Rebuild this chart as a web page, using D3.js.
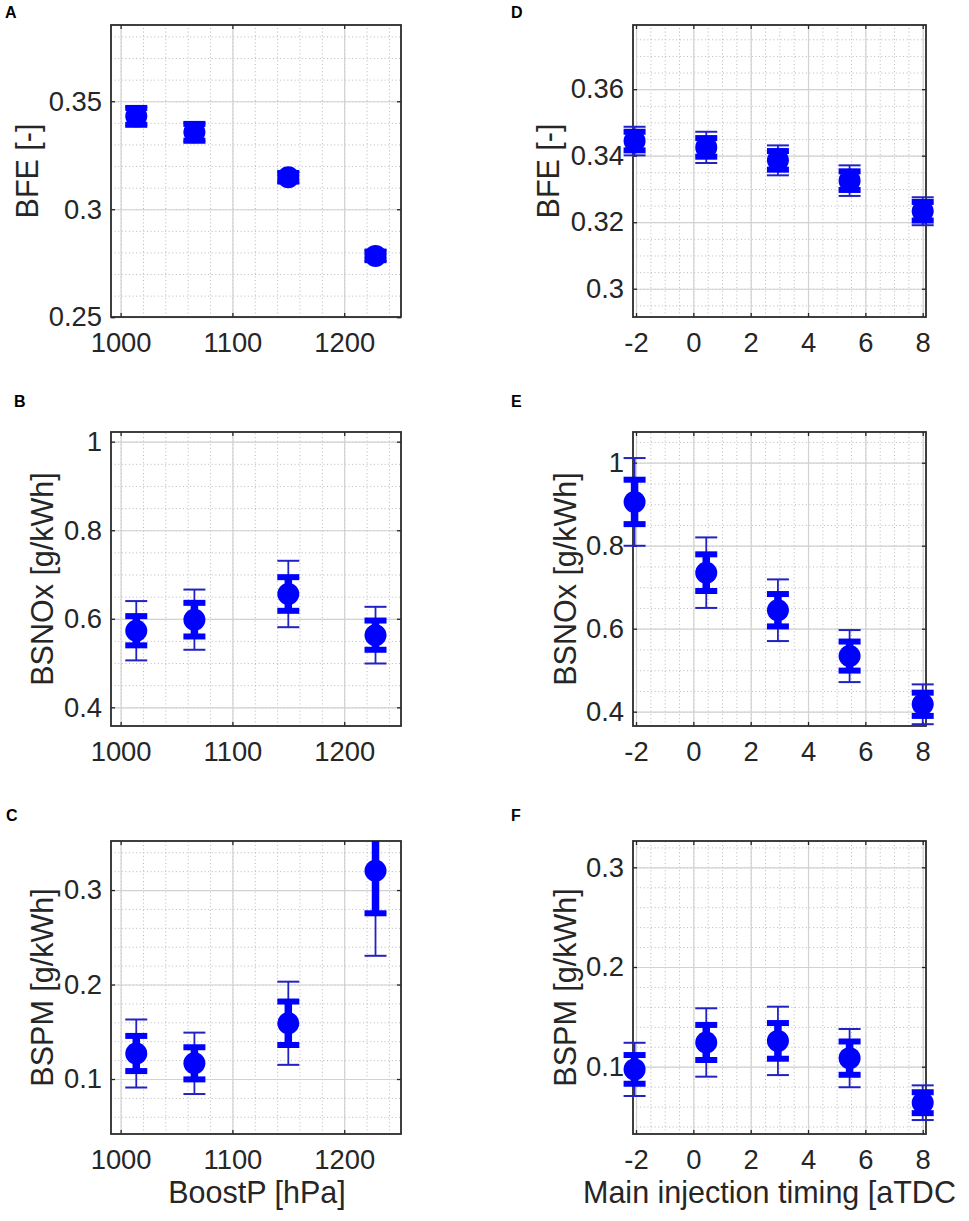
<!DOCTYPE html>
<html>
<head>
<meta charset="utf-8">
<script src="https://cdn.jsdelivr.net/npm/d3@7"></script>
<style>
  body { margin: 0; background: #fff; }
  svg { display: block; font-family: "Liberation Sans", Arial, sans-serif; }
  .tick text { fill: #262626; }
  .axis-label { fill: #262626; }
  .panel-letter { font-weight: bold; fill: #000; }
</style>
</head>
<body>
<svg width="969" height="1221"></svg>
<script>
// x positions of the operating points
const boostP = [1014, 1066, 1150, 1228];
const injTiming = [-2.05, 0.45, 2.95, 5.45, 8.0];

// boost pressure sweep: mean, thick bar half-width, thin bar half-width
const bfeBoost = [0.3430, 0.3356, 0.3148, 0.2784];
const bfeBoostErr = [0.0039, 0.0039, 0.0020, 0.0020];
const bfeBoostRange = [0.0042, 0.0042, 0.0024, 0.0024];

const noxBoost = [0.573, 0.598, 0.656, 0.563];
const noxBoostErr = [0.033, 0.038, 0.038, 0.033];
const noxBoostRange = [0.067, 0.068, 0.075, 0.064];

const pmBoost = [0.127, 0.1166, 0.159, 0.3204];
const pmBoostErr = [0.0186, 0.017, 0.023, 0.045];
const pmBoostRange = [0.036, 0.0325, 0.044, 0.090];

// injection timing sweep
const bfeTiming = [0.3444, 0.3425, 0.3386, 0.3325, 0.3233];
const bfeTimingErr = [0.0028, 0.0028, 0.0028, 0.0028, 0.0028];
const bfeTimingRange = [0.0043, 0.0047, 0.0045, 0.0046, 0.0042];

const noxTiming = [0.9055, 0.735, 0.6445, 0.534, 0.4178];
const noxTimingErr = [0.0535, 0.0442, 0.039, 0.035, 0.028];
const noxTimingRange = [0.1057, 0.085, 0.0743, 0.0627, 0.048];

const pmTiming = [0.0973, 0.1243, 0.1259, 0.1086, 0.0639];
const pmTimingErr = [0.0144, 0.0176, 0.0179, 0.0167, 0.0105];
const pmTimingRange = [0.0267, 0.0343, 0.0343, 0.0292, 0.0174];

// tick values
const boostTicks = [1000, 1100, 1200];
const timingTicks = [-2, 0, 2, 4, 6, 8];
const bfeBoostTicks = [0.25, 0.3, 0.35];
const bfeTimingTicks = [0.3, 0.32, 0.34, 0.36];
const noxTicks = [0.4, 0.6, 0.8, 1];
const pmTicks = [0.1, 0.2, 0.3];

const svg = d3.select('svg');
svg.append('rect').attr('width', 969).attr('height', 1221).attr('fill', '#fff');

const blue = '#0000ff';
const thinBlue = '#2222c4';

const leftCol = {x: 111, w: 290, xData: boostP, xDomain: [991.4, 1250.8], xTicks: boostTicks, xMinor: 20};
const rightCol = {x: 633, w: 293, xData: injTiming, xDomain: [-2.105, 8.115], xTicks: timingTicks, xMinor: 0.5};

const panels = [
	{col: leftCol, letter: 'A', letterX: 5, letterY: 18, top: 25, h: 292, yDomain: [0.2501, 0.3853], yTicks: bfeBoostTicks, yMinor: 0.01,
		mean: bfeBoost, err: bfeBoostErr, range: bfeBoostRange, yLabel: 'BFE [-]', labelOff: 84},
	{col: leftCol, letter: 'B', letterX: 14, letterY: 407, top: 432, h: 294, yDomain: [0.3578, 1.0219], yTicks: noxTicks, yMinor: 0.05,
		mean: noxBoost, err: noxBoostErr, range: noxBoostRange, yLabel: 'BSNOx [g/kWh]', labelOff: 69},
	{col: leftCol, letter: 'C', letterX: 6, letterY: 821, top: 841, h: 293, yDomain: [0.0418, 0.3519], yTicks: pmTicks, yMinor: 0.02,
		mean: pmBoost, err: pmBoostErr, range: pmBoostRange, yLabel: 'BSPM [g/kWh]', labelOff: 69, xLabel: 'BoostP [hPa]'},
	{col: rightCol, letter: 'D', letterX: 511, letterY: 18, top: 25, h: 292, yDomain: [0.2915, 0.3793], yTicks: bfeTimingTicks, yMinor: 0.005,
		mean: bfeTiming, err: bfeTimingErr, range: bfeTimingRange, yLabel: 'BFE [-]', labelOff: 85},
	{col: rightCol, letter: 'E', letterX: 511, letterY: 407, top: 432, h: 294, yDomain: [0.3655, 1.074], yTicks: noxTicks, yMinor: 0.05,
		mean: noxTiming, err: noxTimingErr, range: noxTimingRange, yLabel: 'BSNOx [g/kWh]', labelOff: 68},
	{col: rightCol, letter: 'F', letterX: 511, letterY: 821, top: 841, h: 293, yDomain: [0.0325, 0.3264], yTicks: pmTicks, yMinor: 0.02,
		mean: pmTiming, err: pmTimingErr, range: pmTimingRange, yLabel: 'BSPM [g/kWh]', labelOff: 68, xLabel: 'Main injection timing [aTDC'}
];

const minorValues = (domain, step) => {
	const n0 = Math.ceil(domain[0] / step - 1e-9);
	const n1 = Math.floor(domain[1] / step + 1e-9);
	return d3.range(n0, n1 + 1).map(i => +(i * step).toFixed(6));
};

const fmt = d => String(+d.toFixed(4));

panels.forEach((p, pi) => {
	const c = p.col;
	const w = c.w, h = p.h;

	const xScale = d3.scaleLinear().domain(c.xDomain).range([0, w]);
	const yScale = d3.scaleLinear().domain(p.yDomain).range([h, 0]);

	const g = svg.append('g')
		.attr('transform', `translate(${c.x}, ${p.top})`);

	// minor grid (dotted)
	g.append('g')
		.attr('transform', `translate(0, ${h})`)
		.call(d3.axisBottom(xScale).tickValues(minorValues(c.xDomain, c.xMinor)).tickSize(-h).tickFormat(''))
		.call(s => s.select('.domain').remove())
		.call(s => s.selectAll('line').attr('stroke', '#b8b8b8').attr('stroke-dasharray', '1,2.6'));
	g.append('g')
		.call(d3.axisLeft(yScale).tickValues(minorValues(p.yDomain, p.yMinor)).tickSize(-w).tickFormat(''))
		.call(s => s.select('.domain').remove())
		.call(s => s.selectAll('line').attr('stroke', '#b8b8b8').attr('stroke-dasharray', '1,2.6'));

	// major grid
	g.append('g')
		.attr('transform', `translate(0, ${h})`)
		.call(d3.axisBottom(xScale).tickValues(c.xTicks).tickSize(-h).tickFormat(''))
		.call(s => s.select('.domain').remove())
		.call(s => s.selectAll('line').attr('stroke', '#d2d2d2').attr('stroke-width', 1.2));
	g.append('g')
		.call(d3.axisLeft(yScale).tickValues(p.yTicks).tickSize(-w).tickFormat(''))
		.call(s => s.select('.domain').remove())
		.call(s => s.selectAll('line').attr('stroke', '#d2d2d2').attr('stroke-width', 1.2));

	// tick labels
	const yAxisG = g.append('g')
		.call(d3.axisLeft(yScale).tickValues(p.yTicks).tickSize(0).tickPadding(9).tickFormat(fmt));
	yAxisG.select('.domain').remove();
	yAxisG.selectAll('text').attr('font-size', 27.4).attr('font-family', '"Liberation Sans", Arial, sans-serif');

	const xAxisG = g.append('g')
		.attr('transform', `translate(0, ${h})`)
		.call(d3.axisBottom(xScale).tickValues(c.xTicks).tickSize(0).tickPadding(16).tickFormat(fmt));
	xAxisG.select('.domain').remove();
	xAxisG.selectAll('text').attr('font-size', 27.4).attr('font-family', '"Liberation Sans", Arial, sans-serif');

	// inner tick marks on all four sides
	const tickStyle = s => s.call(t => t.select('.domain').remove())
		.selectAll('line').attr('stroke', '#262626').attr('stroke-width', 1.3);
	g.append('g').attr('transform', `translate(0, ${h})`)
		.call(d3.axisBottom(xScale).tickValues(c.xTicks).tickSize(-4).tickFormat('')).call(tickStyle);
	g.append('g')
		.call(d3.axisTop(xScale).tickValues(c.xTicks).tickSize(-4).tickFormat('')).call(tickStyle);
	g.append('g')
		.call(d3.axisLeft(yScale).tickValues(p.yTicks).tickSize(-4).tickFormat('')).call(tickStyle);
	g.append('g').attr('transform', `translate(${w}, 0)`)
		.call(d3.axisRight(yScale).tickValues(p.yTicks).tickSize(-4).tickFormat('')).call(tickStyle);

	// box
	g.append('rect')
		.attr('width', w).attr('height', h)
		.attr('fill', 'none').attr('stroke', '#2b2b2b').attr('stroke-width', 1.8);

	// clip marks vertically to the axes
	const clipId = `clip-${pi}`;
	g.append('clipPath').attr('id', clipId)
		.append('rect').attr('x', -40).attr('y', 0).attr('width', w + 80).attr('height', h);

	const pts = p.mean.map((m, i) => ({x: c.xData[i], m, e: p.err[i], r: p.range[i]}));
	const marks = g.append('g').attr('clip-path', `url(#${clipId})`);
	const capW = 11;

	const pg = marks.selectAll('g.pt').data(pts).join('g').attr('class', 'pt');

	// thin bars
	pg.append('line')
		.attr('x1', d => xScale(d.x)).attr('x2', d => xScale(d.x))
		.attr('y1', d => yScale(d.m - d.r)).attr('y2', d => yScale(d.m + d.r))
		.attr('stroke', thinBlue).attr('stroke-width', 1.8);
	[-1, 1].forEach(sgn => {
		pg.append('line')
			.attr('x1', d => xScale(d.x) - capW).attr('x2', d => xScale(d.x) + capW)
			.attr('y1', d => yScale(d.m + sgn * d.r)).attr('y2', d => yScale(d.m + sgn * d.r))
			.attr('stroke', thinBlue).attr('stroke-width', 2);
	});

	// thick bars
	pg.append('line')
		.attr('x1', d => xScale(d.x)).attr('x2', d => xScale(d.x))
		.attr('y1', d => yScale(d.m - d.e)).attr('y2', d => yScale(d.m + d.e))
		.attr('stroke', blue).attr('stroke-width', 7.5);
	[-1, 1].forEach(sgn => {
		pg.append('line')
			.attr('x1', d => xScale(d.x) - capW).attr('x2', d => xScale(d.x) + capW)
			.attr('y1', d => yScale(d.m + sgn * d.e)).attr('y2', d => yScale(d.m + sgn * d.e))
			.attr('stroke', blue).attr('stroke-width', 6);
	});

	pg.append('circle')
		.attr('cx', d => xScale(d.x)).attr('cy', d => yScale(d.m))
		.attr('r', 11).attr('fill', blue);

	// axis labels
	g.append('text')
		.attr('class', 'axis-label')
		.attr('transform', `translate(${-p.labelOff}, ${h / 2}) rotate(-90)`)
		.attr('text-anchor', 'middle')
		.attr('dominant-baseline', 'central')
		.attr('font-size', 30.5)
		.text(p.yLabel);

	if (p.xLabel) {
		g.append('text')
			.attr('class', 'axis-label')
			.attr('x', c === leftCol ? 146 : -50)
			.attr('y', h + 69)
			.attr('text-anchor', c === leftCol ? 'middle' : 'start')
			.attr('font-size', 30.5)
			.text(p.xLabel);
	}

	svg.append('text')
		.attr('class', 'panel-letter')
		.attr('x', p.letterX)
		.attr('y', p.letterY)
		.attr('font-size', 16)
		.text(p.letter);
});
</script>
</body>
</html>
